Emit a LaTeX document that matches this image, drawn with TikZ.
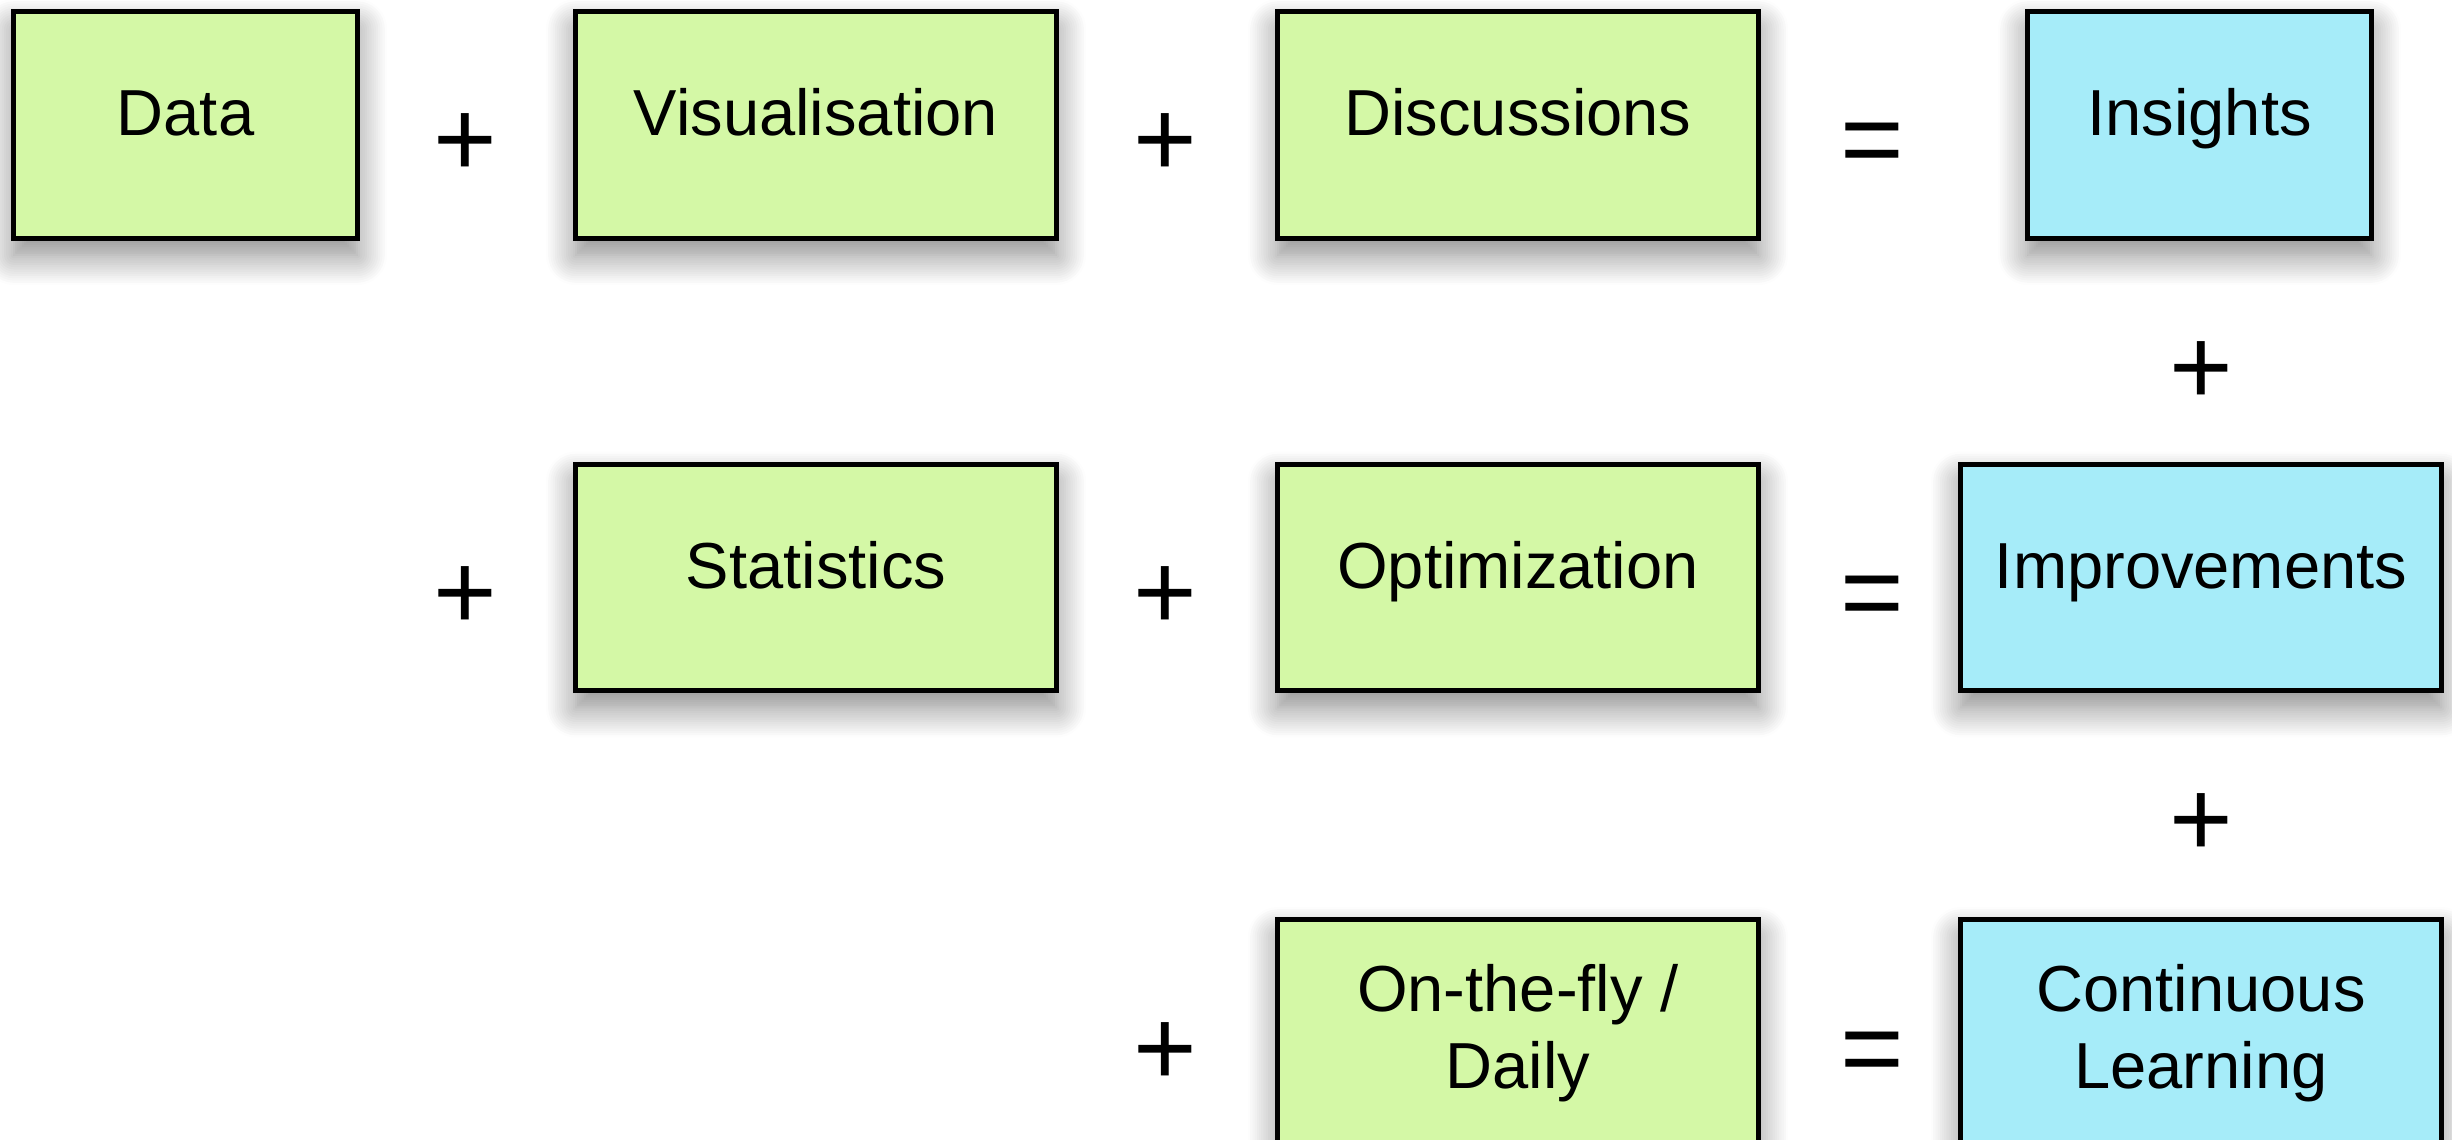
\documentclass[tikz,border=0pt]{standalone}
\usepackage{fontspec}
\setmainfont{Liberation Sans}
\usetikzlibrary{shadows.blur}
\definecolor{boxgreen}{HTML}{D4F8A6}
\definecolor{boxblue}{HTML}{A6ECF9}
\tikzset{
  box/.style={draw=black, line width=1.4pt, minimum height=2.26cm, inner sep=0pt,
    font=\fontsize{18.5pt}{21.9pt}\selectfont, align=center,
    blur shadow={shadow xshift=0pt, shadow yshift=-0.17cm, shadow blur radius=0.3cm,
      shadow opacity=48, shadow blur steps=14}},
  wide/.style={box, minimum width=4.8cm},
  narrow/.style={box, minimum width=3.43cm},
  gbox/.style={fill=boxgreen},
  bbox/.style={fill=boxblue},
  oneline/.style={text height=0.72em, text depth=0.1em},
  op/.style={anchor=base, inner sep=0pt, font=\fontsize{31pt}{31pt}\selectfont}
}
\begin{document}
\begin{tikzpicture}[x=0.01cm,y=-0.01cm]
\useasboundingbox (0,0) rectangle (2452,1140);
% row 1
\node[narrow,gbox,oneline] (data) at (185.5,125) {Data};
\node[wide,gbox,oneline] (vis) at (816,125) {Visualisation};
\node[wide,gbox,oneline] (disc) at (1518,125) {Discussions};
\node[narrow,bbox,oneline] (ins) at (2199.5,125) {Insights};
\node[op] (p11) at (465,176.5) {+};
\node[op] (p12) at (1165,176.5) {+};
\node[op] (e1) at (1872,176.5) {=};
% vertical plus 1
\node[op] (pv1) at (2201,404) {+};
% row 2
\node[wide,gbox,oneline] (stat) at (816,577.5) {Statistics};
\node[wide,gbox,oneline] (opt) at (1518,577.5) {Optimization};
\node[wide,bbox,oneline] (impr) at (2201,577.5) {Improvements};
\node[op] (p21) at (465,629.5) {+};
\node[op] (p22) at (1165,629.5) {+};
\node[op] (e2) at (1872,629.5) {=};
% vertical plus 2
\node[op] (pv2) at (2201,856) {+};
% row 3
\node[wide,gbox] (fly) at (1518,1033) {On-the-fly /\\Daily};
\node[wide,bbox] (cont) at (2201,1033) {Continuous\\Learning};
\node[op] (p32) at (1165,1085) {+};
\node[op] (e3) at (1872,1085) {=};
\end{tikzpicture}
\end{document}
